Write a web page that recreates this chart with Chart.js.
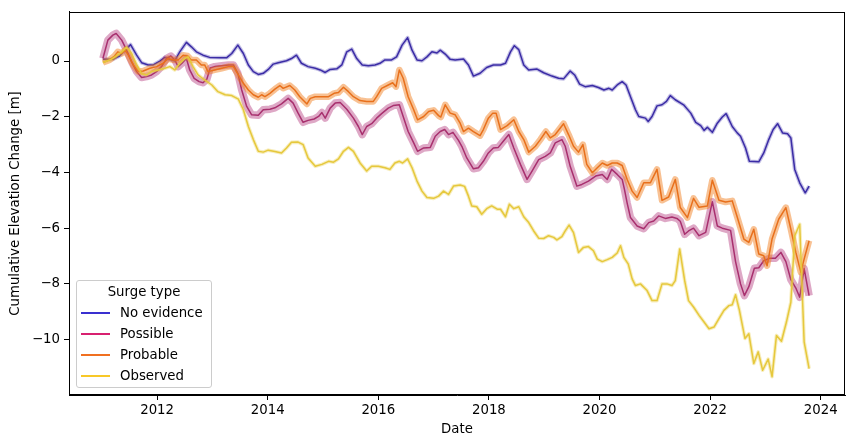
<!DOCTYPE html>
<html><head><meta charset="utf-8">
<script src="https://cdn.jsdelivr.net/npm/chart.js@4.4.0/dist/chart.umd.min.js"></script>
<style>
html,body{margin:0;padding:0;background:#fff;}
#wrap{position:relative;width:853px;height:448px;}
canvas{display:block;}
#legend{position:absolute;left:76px;top:280px;width:136px;height:108px;border:1px solid #cccccc;border-radius:3px;background:rgba(255,255,255,0.8);font-family:"DejaVu Sans";font-size:13.3px;color:#000;box-sizing:border-box;}
.lt{position:absolute;left:0;right:0;top:2px;text-align:center;line-height:18px;}
.row{position:absolute;left:0;height:18px;line-height:18px;}
.row .h{position:absolute;left:4px;top:8px;width:29px;height:1.5px;}
.row .t{position:absolute;left:43px;top:0;white-space:nowrap;}
</style>
</head><body>
<div id="wrap"><canvas id="c" width="853" height="448"></canvas><div id="legend"></div></div>
<script>
// ---------- data (decimal years, metres) ----------
const seriesNames = ["No evidence", "Possible", "Probable", "Observed"];
const xTickValues = [2012, 2014, 2016, 2018, 2020, 2022, 2024];
const yTickValues = [0, -2, -4, -6, -8, -10];

const noEvidenceDates = [
 2011.02,2011.20,2011.32,2011.43,2011.52,2011.63,2011.72,2011.84,2011.93,2012.05,
 2012.14,2012.23,2012.32,2012.41,2012.53,2012.62,2012.71,2012.83,2012.95,2013.14,
 2013.26,2013.35,2013.46,2013.56,2013.65,2013.74,2013.83,2013.92,2014.01,2014.10,
 2014.19,2014.34,2014.43,2014.52,2014.61,2014.73,2014.86,2014.95,2015.04,2015.13,
 2015.25,2015.34,2015.43,2015.52,2015.61,2015.71,2015.82,2015.94,2016.03,2016.12,
 2016.24,2016.33,2016.43,2016.53,2016.61,2016.70,2016.79,2016.88,2016.97,2017.06,
 2017.12,2017.21,2017.30,2017.39,2017.54,2017.63,2017.72,2017.84,2017.96,2018.08,
 2018.21,2018.30,2018.39,2018.46,2018.54,2018.63,2018.72,2018.87,2018.99,2019.14,
 2019.26,2019.35,2019.47,2019.55,2019.64,2019.74,2019.87,2019.98,2020.08,2020.17,
 2020.23,2020.32,2020.41,2020.48,2020.56,2020.65,2020.71,2020.83,2020.88,2020.95,
 2021.04,2021.13,2021.21,2021.28,2021.37,2021.52,2021.65,2021.74,2021.83,2021.89,
 2021.95,2022.04,2022.13,2022.22,2022.29,2022.40,2022.49,2022.55,2022.64,2022.71,
 2022.88,2022.97,2023.06,2023.14,2023.22,2023.31,2023.40,2023.46,2023.53,2023.62,
 2023.72,2023.79];
const noEvidenceValues = [
 0.06,0.06,0.18,0.41,0.59,0.21,-0.06,-0.14,-0.14,0.00,
 0.13,0.06,0.01,0.33,0.67,0.51,0.33,0.21,0.13,0.12,
 0.12,0.27,0.57,0.27,-0.14,-0.38,-0.48,-0.44,-0.30,-0.11,
 -0.06,0.01,0.09,0.21,-0.08,-0.20,-0.26,-0.32,-0.41,-0.30,
 -0.28,-0.14,0.33,0.43,0.09,-0.14,-0.17,-0.14,-0.08,0.04,
 0.04,0.15,0.57,0.84,0.39,0.04,0.01,0.15,0.33,0.29,
 0.39,0.25,0.06,0.04,0.07,-0.14,-0.54,-0.44,-0.23,-0.14,
 -0.14,-0.08,0.33,0.55,0.41,-0.14,-0.32,-0.29,-0.42,-0.54,
 -0.62,-0.64,-0.36,-0.50,-0.83,-0.92,-0.88,-0.95,-1.04,-0.98,
 -1.04,-0.86,-0.74,-0.86,-1.28,-1.75,-1.99,-2.05,-2.17,-1.99,
 -1.61,-1.57,-1.45,-1.24,-1.39,-1.57,-1.87,-2.20,-2.32,-2.49,
 -2.38,-2.56,-2.23,-2.01,-1.89,-2.35,-2.58,-2.70,-3.12,-3.60,
 -3.62,-3.30,-2.82,-2.46,-2.25,-2.58,-2.61,-2.76,-3.89,-4.37,
 -4.73,-4.49];

const possibleDates = [
 2011.02,2011.11,2011.20,2011.26,2011.36,2011.45,2011.54,2011.63,2011.72,2011.81,
 2011.90,2011.99,2012.08,2012.17,2012.25,2012.32,2012.38,2012.45,2012.53,2012.59,
 2012.67,2012.76,2012.83,2012.90,2012.96,2013.04,2013.17,2013.29,2013.38,2013.46,
 2013.53,2013.62,2013.71,2013.83,2013.92,2014.04,2014.13,2014.25,2014.37,2014.46,
 2014.55,2014.64,2014.73,2014.84,2014.92,2014.98,2015.04,2015.13,2015.22,2015.31,
 2015.43,2015.55,2015.64,2015.71,2015.79,2015.88,2015.97,2016.06,2016.18,2016.27,
 2016.38,2016.45,2016.54,2016.64,2016.71,2016.82,2016.94,2017.03,2017.12,2017.20,
 2017.27,2017.35,2017.45,2017.51,2017.60,2017.72,2017.81,2017.90,2017.99,2018.08,
 2018.17,2018.26,2018.36,2018.45,2018.57,2018.69,2018.78,2018.90,2019.02,2019.11,
 2019.20,2019.32,2019.38,2019.47,2019.59,2019.68,2019.80,2019.93,2020.05,2020.14,
 2020.22,2020.32,2020.41,2020.45,2020.50,2020.56,2020.68,2020.80,2020.89,2020.98,
 2021.07,2021.19,2021.31,2021.40,2021.46,2021.54,2021.61,2021.70,2021.80,2021.92,
 2022.04,2022.13,2022.22,2022.37,2022.46,2022.55,2022.62,2022.70,2022.80,2022.88,
 2022.97,2023.08,2023.18,2023.28,2023.37,2023.46,2023.55,2023.62,2023.70,2023.79];
const possibleValues = [
 0.09,0.75,0.93,0.99,0.75,0.39,-0.03,-0.38,-0.59,-0.56,
 -0.50,-0.38,-0.20,0.09,0.18,0.04,-0.20,-0.08,0.09,-0.32,
 -0.62,-0.74,-0.78,-0.65,-0.25,-0.20,-0.17,-0.14,-0.14,-0.44,
 -1.04,-1.63,-1.93,-1.95,-1.75,-1.73,-1.68,-1.54,-1.34,-1.51,
 -1.87,-2.20,-2.13,-2.08,-1.99,-1.85,-2.05,-1.69,-1.51,-1.49,
 -1.73,-2.05,-2.35,-2.64,-2.35,-2.25,-2.05,-1.89,-1.69,-1.60,
 -1.57,-1.99,-2.53,-2.94,-3.24,-3.12,-3.10,-2.70,-2.53,-2.46,
 -2.64,-2.56,-2.85,-3.06,-3.48,-3.87,-3.83,-3.60,-3.30,-3.12,
 -3.10,-2.88,-2.64,-3.12,-3.71,-4.25,-3.95,-3.54,-3.42,-3.30,
 -2.94,-2.82,-3.06,-3.78,-4.49,-4.43,-4.31,-4.13,-4.07,-4.25,
 -3.89,-4.07,-4.25,-4.60,-5.10,-5.62,-5.92,-6.02,-5.80,-5.74,
 -5.56,-5.65,-5.60,-5.65,-5.75,-6.22,-6.10,-6.00,-6.27,-6.15,
 -5.05,-5.92,-6.00,-6.08,-7.20,-8.00,-8.42,-8.10,-7.44,-7.42,
 -7.17,-7.08,-7.08,-6.87,-7.20,-7.85,-8.15,-8.48,-7.45,-8.42];

const probableDates = [
 2011.02,2011.14,2011.23,2011.29,2011.36,2011.42,2011.48,2011.57,2011.66,2011.75,
 2011.87,2011.99,2012.11,2012.20,2012.29,2012.38,2012.47,2012.55,2012.62,2012.71,
 2012.80,2012.86,2012.92,2013.04,2013.17,2013.29,2013.38,2013.47,2013.56,2013.65,
 2013.74,2013.83,2013.89,2013.95,2014.04,2014.13,2014.22,2014.28,2014.40,2014.49,
 2014.58,2014.71,2014.77,2014.86,2014.98,2015.10,2015.20,2015.28,2015.37,2015.46,
 2015.55,2015.67,2015.79,2015.91,2015.97,2016.06,2016.18,2016.26,2016.32,2016.38,
 2016.45,2016.54,2016.64,2016.71,2016.82,2016.91,2017.00,2017.09,2017.13,2017.21,
 2017.30,2017.39,2017.48,2017.54,2017.63,2017.72,2017.84,2017.90,2017.99,2018.07,
 2018.13,2018.21,2018.33,2018.45,2018.54,2018.63,2018.72,2018.84,2018.93,2019.03,
 2019.11,2019.20,2019.27,2019.35,2019.44,2019.53,2019.62,2019.70,2019.77,2019.87,
 2019.96,2020.05,2020.14,2020.23,2020.32,2020.41,2020.50,2020.59,2020.68,2020.80,
 2020.92,2021.04,2021.13,2021.25,2021.37,2021.46,2021.59,2021.70,2021.80,2021.95,
 2022.04,2022.16,2022.28,2022.40,2022.49,2022.61,2022.70,2022.79,2022.88,2022.97,
 2023.03,2023.12,2023.24,2023.37,2023.46,2023.55,2023.64,2023.70,2023.79];
const probableValues = [
 -0.05,0.04,0.18,0.33,0.27,0.39,0.21,-0.14,-0.38,-0.36,
 -0.26,-0.20,-0.08,0.09,0.04,0.04,0.21,0.18,0.04,0.04,
 -0.14,-0.14,-0.38,-0.32,-0.26,-0.20,-0.20,-0.50,-0.80,-1.04,
 -1.21,-1.30,-1.21,-1.28,-1.16,-1.01,-0.88,-0.98,-0.88,-1.04,
 -1.28,-1.54,-1.34,-1.28,-1.28,-1.28,-1.16,-1.13,-0.94,-1.10,
 -1.28,-1.42,-1.45,-1.45,-1.28,-0.98,-0.86,-0.78,-0.92,-0.32,
 -0.62,-1.28,-1.75,-2.11,-1.99,-1.81,-1.77,-1.96,-2.01,-1.57,
 -1.87,-1.93,-2.23,-2.53,-2.41,-2.53,-2.68,-2.46,-2.05,-1.87,
 -1.87,-2.46,-2.32,-2.11,-2.53,-2.82,-3.27,-3.06,-2.82,-2.53,
 -2.76,-2.64,-2.46,-2.25,-2.64,-3.06,-3.27,-3.00,-3.71,-4.01,
 -3.83,-3.66,-3.75,-3.66,-3.66,-3.75,-4.25,-4.67,-4.90,-4.37,
 -4.37,-3.89,-5.00,-4.88,-4.25,-5.26,-5.62,-4.93,-5.25,-5.20,
 -4.28,-5.00,-5.06,-5.02,-5.60,-6.39,-6.51,-6.04,-6.93,-6.99,
 -7.35,-6.39,-5.68,-5.26,-6.04,-6.87,-7.58,-7.11,-6.45];

const observedDates = [
 2011.02,2011.17,2011.26,2011.36,2011.45,2011.54,2011.63,2011.72,2011.81,2011.90,
 2012.02,2012.14,2012.23,2012.32,2012.41,2012.50,2012.56,2012.65,2012.74,2012.86,
 2012.99,2013.10,2013.23,2013.35,2013.47,2013.56,2013.65,2013.74,2013.83,2013.92,
 2014.01,2014.13,2014.25,2014.34,2014.43,2014.55,2014.64,2014.73,2014.86,2014.98,
 2015.10,2015.19,2015.28,2015.37,2015.46,2015.55,2015.67,2015.79,2015.88,2016.00,
 2016.12,2016.21,2016.30,2016.38,2016.44,2016.53,2016.61,2016.70,2016.79,2016.88,
 2017.00,2017.09,2017.18,2017.27,2017.36,2017.48,2017.56,2017.63,2017.69,2017.78,
 2017.87,2017.96,2018.05,2018.15,2018.21,2018.30,2018.37,2018.45,2018.54,2018.63,
 2018.72,2018.81,2018.90,2018.99,2019.08,2019.17,2019.23,2019.32,2019.38,2019.45,
 2019.53,2019.62,2019.71,2019.80,2019.89,2019.96,2020.05,2020.14,2020.23,2020.32,
 2020.38,2020.44,2020.52,2020.59,2020.65,2020.74,2020.86,2020.95,2021.04,2021.13,
 2021.22,2021.31,2021.37,2021.45,2021.54,2021.61,2021.70,2021.80,2021.89,2021.98,
 2022.07,2022.16,2022.25,2022.34,2022.40,2022.46,2022.53,2022.63,2022.70,2022.79,
 2022.87,2022.95,2023.05,2023.12,2023.20,2023.29,2023.38,2023.46,2023.53,2023.62,
 2023.70,2023.79];
const observedValues = [
 -0.05,0.06,0.18,0.33,0.50,0.27,-0.14,-0.46,-0.50,-0.38,
 -0.32,-0.26,-0.20,-0.32,-0.08,0.09,0.15,-0.20,-0.50,-0.68,
 -0.86,-1.10,-1.21,-1.24,-1.37,-1.75,-2.35,-2.82,-3.24,-3.27,
 -3.20,-3.25,-3.30,-3.12,-2.92,-2.91,-3.00,-3.48,-3.78,-3.71,
 -3.60,-3.63,-3.51,-3.24,-3.10,-3.24,-3.66,-3.95,-3.78,-3.78,
 -3.83,-3.89,-3.66,-3.60,-3.66,-3.51,-3.83,-4.31,-4.67,-4.90,
 -4.93,-4.85,-4.67,-4.79,-4.49,-4.45,-4.50,-4.85,-5.20,-5.23,
 -5.50,-5.30,-5.20,-5.32,-5.32,-5.59,-5.14,-5.30,-5.23,-5.59,
 -5.80,-6.10,-6.36,-6.37,-6.27,-6.33,-6.42,-6.30,-6.10,-5.89,
 -6.16,-6.87,-6.69,-6.66,-6.81,-7.11,-7.20,-7.13,-7.05,-6.89,
 -6.63,-7.05,-7.29,-7.82,-8.06,-8.00,-8.24,-8.60,-8.60,-8.00,
 -8.00,-8.06,-7.88,-6.75,-7.88,-8.60,-8.83,-9.13,-9.37,-9.61,
 -9.55,-9.25,-8.95,-8.78,-8.75,-8.39,-8.95,-9.96,-9.79,-10.86,
 -10.44,-11.10,-10.70,-11.33,-9.85,-10.06,-9.37,-8.66,-6.27,-5.86,
 -10.08,-11.04];

// ---------- styles ----------
const lineColors   = ['#3b2ca6', '#a8306e', '#e8701c', '#e6c83c'];
const bandColors   = ['rgba(70,60,175,0.32)', 'rgba(176,48,120,0.42)', 'rgba(240,125,30,0.48)', 'rgba(230,200,50,0.32)'];
const bandWidths   = [3.8, 7.5, 6.5, 3.6];
const legendColors = ['#3a30d0', '#d82070', '#f07020', '#f8c828'];

const seriesDates  = [noEvidenceDates, possibleDates, probableDates, observedDates];
const seriesValues = [noEvidenceValues, possibleValues, probableValues, observedValues];

function pts(d, v) {
  if (d.length !== v.length) console.error('length mismatch', d.length, v.length);
  const out = [];
  for (let i = 0; i < Math.min(d.length, v.length); i++) out.push({x: d[i], y: v[i]});
  return out;
}

const datasets = [];
seriesNames.forEach((name, i) => {
  const data = pts(seriesDates[i], seriesValues[i]);
  // uncertainty band (translucent wide stroke)
  datasets.push({label: name + ' band', data, borderColor: bandColors[i], borderWidth: bandWidths[i],
    pointRadius: 0, tension: 0, fill: false, borderJoinStyle: 'round', borderCapStyle: 'butt',
    order: 2 * (3 - i) + 1});
  datasets.push({label: name, data, borderColor: lineColors[i], borderWidth: 1.5,
    pointRadius: 0, tension: 0, fill: false, borderJoinStyle: 'round',
    order: 2 * (3 - i)});
});

const FONT = {family: 'DejaVu Sans', size: 13.3};
const frame = {id: 'frame', afterDraw(chart) {
  const {ctx, chartArea: a} = chart;
  ctx.save(); ctx.strokeStyle = '#000'; ctx.lineWidth = 1;
  ctx.strokeRect(Math.round(a.left) + 0.5, Math.round(a.top) + 0.5, Math.round(a.right - a.left) - 1, Math.round(a.bottom - a.top) - 1);
  ctx.restore();
}};

new Chart(document.getElementById('c'), {
  type: 'line',
  data: {datasets},
  options: {
    responsive: false, animation: false, devicePixelRatio: 1,
    layout: {padding: {top: 10, right: 8, left: 0, bottom: 0}},
    plugins: {legend: {display: false}, tooltip: {enabled: false}},
    scales: {
      x: {type: 'linear', min: 2010.407, max: 2024.439,
        afterBuildTicks: s => { s.ticks = xTickValues.map(v => ({value: v})); },
        afterFit: s => { s.height = 53; },
        ticks: {callback: v => String(v), font: FONT, color: '#000', padding: 3, maxRotation: 0, autoSkip: false},
        grid: {display: true, drawOnChartArea: false, drawTicks: true, tickLength: 5, tickWidth: 1, tickColor: '#000'},
        border: {display: true, color: '#000', width: 1},
        title: {display: true, text: 'Date', font: FONT, color: '#000', padding: {top: 4, bottom: 10}}
      },
      y: {type: 'linear', min: -11.989, max: 1.761,
        afterBuildTicks: s => { s.ticks = yTickValues.map(v => ({value: v})); },
        afterFit: s => { s.width = 69; },
        ticks: {callback: v => v < 0 ? '\u2212' + (-v) : String(v), font: FONT, color: '#000', padding: 4, autoSkip: false},
        grid: {display: true, drawOnChartArea: false, drawTicks: true, tickLength: 5, tickWidth: 1, tickColor: '#000'},
        border: {display: true, color: '#000', width: 1},
        title: {display: true, text: 'Cumulative Elevation Change [m]', font: FONT, color: '#000', padding: {top: 8, bottom: 4}}
      }
    }
  },
  plugins: [frame]
});

// legend (HTML, real text)
const lg = document.getElementById('legend');
const t = document.createElement('div'); t.className = 'lt'; t.textContent = 'Surge type'; lg.appendChild(t);
seriesNames.forEach((name, i) => {
  const r = document.createElement('div'); r.className = 'row'; r.style.top = (23 + i * 21) + 'px';
  const h = document.createElement('div'); h.className = 'h'; h.style.backgroundColor = legendColors[i];
  const tx = document.createElement('div'); tx.className = 't'; tx.textContent = name;
  r.appendChild(h); r.appendChild(tx); lg.appendChild(r);
});
</script>
</body></html>
